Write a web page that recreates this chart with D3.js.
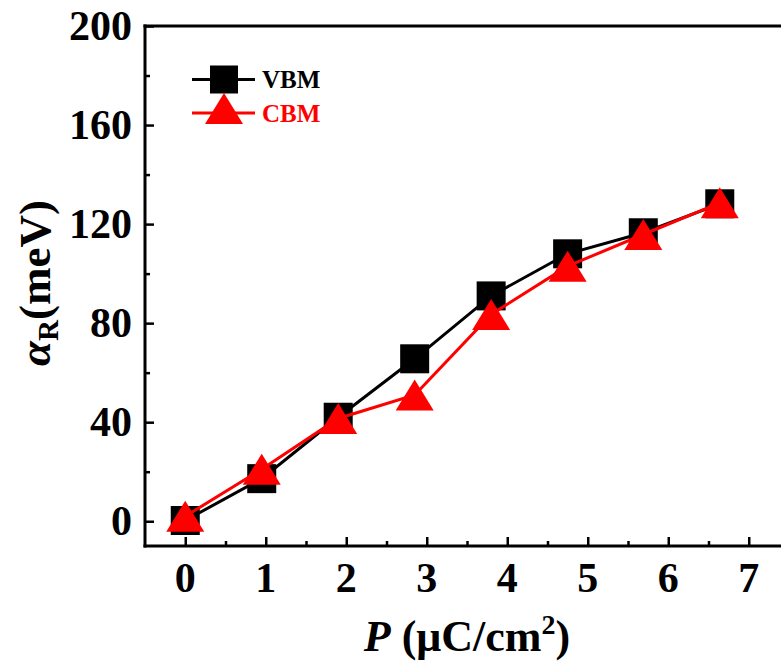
<!DOCTYPE html>
<html>
<head>
<meta charset="utf-8">
<script src="https://cdn.jsdelivr.net/npm/d3@7"></script>
<style>
  html, body { margin: 0; padding: 0; background: #fff; overflow: hidden; }
  svg { display: block; }
  text { font-family: "Liberation Serif", "Times New Roman", serif; font-weight: bold; }
</style>
</head>
<body>
<svg id="chart" width="781" height="667"></svg>
<script>
// ---- data ----
const polarization = [0, 0.95, 1.9, 2.85, 3.8, 4.75, 5.69, 6.64];
const vbmValues = [0.3, 17.2, 42, 65.6, 91, 108, 116.5, 128.2];
const cbmValues = [2, 21, 41.5, 51, 83.5, 103, 115.8, 128.6];
const xTickValues = [0, 1, 2, 3, 4, 5, 6, 7];
const yTickValues = [0, 40, 80, 120, 160, 200];
const seriesNames = ["VBM", "CBM"];

// ---- layout ----
const svg = d3.select("#chart");
const plotLeft = 145, plotTop = 26, plotBottom = 546;
const x = d3.scaleLinear().domain([-0.5, 7.5]).range([plotLeft, plotLeft + 8 * 80.5]);
const y = d3.scaleLinear().domain([-10, 200]).range([plotBottom, plotTop]);
const plotRight = 781; // the right spine lies outside the window

// frame: top, bottom, left
const frame = svg.append("g").attr("stroke", "#000").attr("stroke-width", 3).attr("fill", "none");
frame.append("line").attr("x1", plotLeft - 1.5).attr("x2", plotRight).attr("y1", plotTop).attr("y2", plotTop);
frame.append("line").attr("x1", plotLeft - 1.5).attr("x2", plotRight).attr("y1", plotBottom).attr("y2", plotBottom);
frame.append("line").attr("x1", plotLeft).attr("x2", plotLeft).attr("y1", plotTop - 1.5).attr("y2", plotBottom + 1.5);

// x axis ticks (inward)
const xMajor = d3.axisBottom(x).tickValues(xTickValues).tickSize(-9).tickFormat("");
const xMinor = d3.axisBottom(x).tickValues(d3.range(0.5, 7.5, 1)).tickSize(-5).tickFormat("");
[xMajor, xMinor].forEach(ax => {
  const g = svg.append("g").attr("transform", `translate(0,${plotBottom})`).call(ax);
  g.select(".domain").remove();
  g.selectAll("line").attr("stroke", "#000").attr("stroke-width", 2.5);
});
svg.append("g").selectAll("text").data(xTickValues).join("text")
  .attr("x", d => x(d)).attr("y", 592)
  .attr("text-anchor", "middle").attr("font-size", 42)
  .text(d => d);

// y axis ticks (inward)
const yMajor = d3.axisLeft(y).tickValues(yTickValues).tickSize(-9).tickFormat("");
const yMinor = d3.axisLeft(y).tickValues(d3.range(20, 200, 40)).tickSize(-5).tickFormat("");
[yMajor, yMinor].forEach(ax => {
  const g = svg.append("g").attr("transform", `translate(${plotLeft},0)`).call(ax);
  g.select(".domain").remove();
  g.selectAll("line").attr("stroke", "#000").attr("stroke-width", 2.5);
});
svg.append("g").selectAll("text").data(yTickValues).join("text")
  .attr("x", 132).attr("y", d => y(d) + 14)
  .attr("text-anchor", "end").attr("font-size", 42)
  .text(d => d);

// axis titles
const xt = svg.append("text").attr("x", x(3.5)).attr("y", 651)
  .attr("text-anchor", "middle").attr("font-size", 44);
xt.append("tspan").attr("font-style", "italic").text("P");
xt.append("tspan").text(" (\u03BCC/cm");
xt.append("tspan").attr("font-size", 28).attr("dy", -17).text("2");
xt.append("tspan").attr("dy", 17).text(")");

const yt = svg.append("text")
  .attr("transform", `translate(50,283) rotate(-90)`)
  .attr("text-anchor", "middle").attr("font-size", 45);
yt.append("tspan").attr("font-style", "italic").text("\u03B1");
yt.append("tspan").attr("font-size", 29).attr("dy", 8).text("R");
yt.append("tspan").attr("dy", -8).text("(meV)");

// series
const line = d3.line().x(d => x(d[0])).y(d => y(d[1]));
const vbm = polarization.map((p, i) => [p, vbmValues[i]]);
const cbm = polarization.map((p, i) => [p, cbmValues[i]]);
const sq = 29;
const triPath = "M0,-15.5L19,15.5L-19,15.5Z";

svg.append("path").datum(vbm).attr("d", line)
  .attr("fill", "none").attr("stroke", "#000").attr("stroke-width", 3);
svg.append("g").selectAll("rect").data(vbm).join("rect")
  .attr("x", d => x(d[0]) - sq / 2).attr("y", d => y(d[1]) - sq / 2)
  .attr("width", sq).attr("height", sq).attr("fill", "#000");

svg.append("path").datum(cbm).attr("d", line)
  .attr("fill", "none").attr("stroke", "#ff0000").attr("stroke-width", 3);
svg.append("g").selectAll("path").data(cbm).join("path")
  .attr("transform", d => `translate(${x(d[0])},${y(d[1])})`)
  .attr("d", triPath).attr("fill", "#ff0000");

// legend
const lg = svg.append("g");
lg.append("line").attr("x1", 192).attr("x2", 255).attr("y1", 79.5).attr("y2", 79.5)
  .attr("stroke", "#000").attr("stroke-width", 3);
lg.append("rect").attr("x", 224 - 14).attr("y", 79.5 - 14).attr("width", 28).attr("height", 28).attr("fill", "#000");
lg.append("text").attr("x", 262).attr("y", 88).attr("font-size", 25).attr("fill", "#000").text(seriesNames[0]);
lg.append("line").attr("x1", 192).attr("x2", 255).attr("y1", 113).attr("y2", 113)
  .attr("stroke", "#ff0000").attr("stroke-width", 3);
lg.append("path").attr("transform", "translate(224,108.5)").attr("d", triPath).attr("fill", "#ff0000");
lg.append("text").attr("x", 262).attr("y", 122).attr("font-size", 25).attr("fill", "#ff0000").text(seriesNames[1]);
</script>
</body>
</html>
